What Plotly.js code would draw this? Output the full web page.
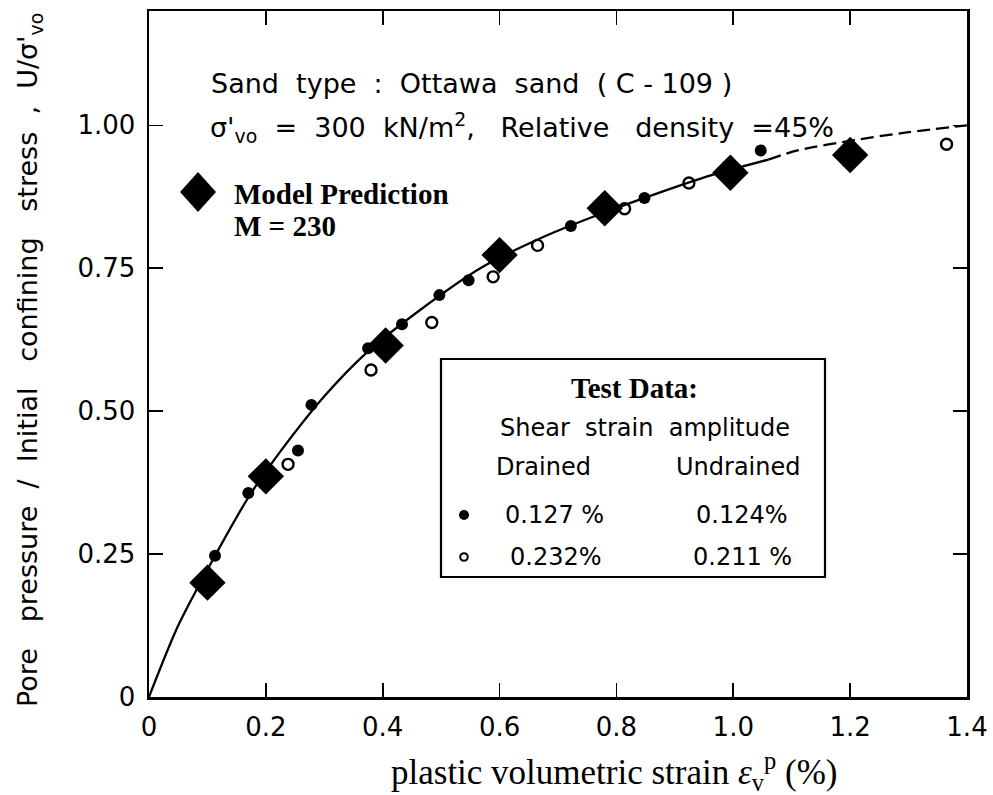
<!DOCTYPE html>
<html>
<head>
<meta charset="utf-8">
<script src="https://cdn.plot.ly/plotly-3.0.1.min.js"></script>
<style>
  html, body { margin: 0; padding: 0; background: #fff; }
  #chart { width: 993px; height: 795px; }
</style>
</head>
<body>
<div id="chart"></div>
<script>
// Model prediction (M = 230)
const modelStrain = [0.10, 0.20, 0.405, 0.60, 0.78, 0.995, 1.20];
const modelRatio  = [0.20, 0.386, 0.615, 0.773, 0.855, 0.917, 0.948];

// Test data, smaller shear strain amplitude (drained 0.127 %, undrained 0.124 %)
const smallAmpStrain = [0.113, 0.170, 0.255, 0.278, 0.375, 0.433, 0.497, 0.547, 0.722, 0.848, 1.047];
const smallAmpRatio  = [0.247, 0.357, 0.431, 0.511, 0.610, 0.652, 0.703, 0.729, 0.824, 0.873, 0.956];

// Test data, larger shear strain amplitude (drained 0.232 %, undrained 0.211 %)
const largeAmpStrain = [0.238, 0.380, 0.484, 0.589, 0.665, 0.814, 0.924, 1.365];
const largeAmpRatio  = [0.407, 0.572, 0.655, 0.735, 0.790, 0.854, 0.899, 0.967];

// Fitted trend: solid over the data range, dashed beyond it
const fitStrain = [0, 0.05, 0.113, 0.17, 0.213, 0.30, 0.373, 0.464, 0.567, 0.669, 0.76, 0.87, 0.96, 1.06];
const fitRatio  = [0, 0.125, 0.247, 0.349, 0.413, 0.526, 0.603, 0.677, 0.750, 0.802, 0.840, 0.881, 0.912, 0.940];
const extStrain = [1.06, 1.11, 1.20, 1.30, 1.40];
const extRatio  = [0.940, 0.956, 0.973, 0.988, 1.000];

// Axis ticks
const xTickVals = [0, 0.2, 0.4, 0.6, 0.8, 1.0, 1.2, 1.4];
const xTickText = ['0', '0.2', '0.4', '0.6', '0.8', '1.0', '1.2', '1.4'];
const yTickVals = [0, 0.25, 0.5, 0.75, 1.0];
const yTickText = ['0', '0.25', '0.50', '0.75', '1.00'];

// Legend table text
const legendTitle = 'Test Data:';
const legendHeader = 'Shear  strain  amplitude';
const legendCols = ['Drained', 'Undrained'];
const legendSmall = ['0.127 %', '0.124%'];
const legendLarge = ['0.232%', '0.211 %'];

// Plot frame in pixels, used to place the free text
const W = 993, H = 795;
const PL = 149, PR = 967, PT = 11, PB = 697;
const fx = px => (px - PL) / (PR - PL);
const fy = py => (PB - py) / (PB - PT);

const SANS = 'DejaVu Sans, sans-serif';
const SERIF = 'Liberation Serif, Times New Roman, serif';

const traces = [
  {
    x: fitStrain, y: fitRatio, type: 'scatter', mode: 'lines',
    line: { color: '#000', width: 2.3, shape: 'spline', smoothing: 0.8 },
    hoverinfo: 'skip'
  },
  {
    x: extStrain, y: extRatio, type: 'scatter', mode: 'lines',
    line: { color: '#000', width: 2.3, dash: '13px,6px', shape: 'spline', smoothing: 0.8 },
    hoverinfo: 'skip'
  },
  {
    x: smallAmpStrain, y: smallAmpRatio, type: 'scatter', mode: 'markers',
    marker: { symbol: 'circle', size: 12, color: '#000', line: { width: 0 } }
  },
  {
    x: largeAmpStrain, y: largeAmpRatio, type: 'scatter', mode: 'markers',
    marker: { symbol: 'circle-open', size: 11, color: '#000', line: { width: 2.4, color: '#000' } }
  },
  {
    x: modelStrain, y: modelRatio, type: 'scatter', mode: 'markers',
    marker: { symbol: 'diamond', size: 28, color: '#000', line: { width: 0 } }
  }
];

// centred sans-serif label at a pixel position
const sansAnn = (text, px, py, size) => ({
  text: text, xref: 'paper', yref: 'paper', x: fx(px), y: fy(py),
  xanchor: 'center', yanchor: 'middle', showarrow: false,
  font: { family: SANS, size: size, color: '#000' }
});
const serifAnn = (text, px, py, size, anchor) => ({
  text: text, xref: 'paper', yref: 'paper', x: fx(px), y: fy(py),
  xanchor: anchor || 'left', yanchor: 'middle', showarrow: false,
  font: { family: SERIF, size: size, color: '#000', weight: 'bold' }
});

const annotations = [
  sansAnn('Sand  type  :  Ottawa  sand  ( C - 109 )', 471, 83, 27),
  sansAnn("σ'<sub>vo</sub>  =  300  kN/m<sup>2</sup>,   Relative   density  =45%", 522, 128, 27),
  sansAnn(legendHeader, 645, 428, 24),
  sansAnn(legendCols[0], 543, 467, 24),
  sansAnn(legendCols[1], 738, 467, 24),
  sansAnn(legendSmall[0], 554, 515, 24),
  sansAnn(legendSmall[1], 742, 515, 24),
  sansAnn(legendLarge[0], 556, 557, 24),
  sansAnn(legendLarge[1], 742, 557, 24),
  {
    text: "Pore   pressure  /  Initial   confining   stress  ,  U/σ'<sub>vo</sub>",
    xref: 'paper', yref: 'paper', x: fx(29), y: fy(360),
    xanchor: 'center', yanchor: 'middle', textangle: -90, showarrow: false,
    font: { family: SANS, size: 27, color: '#000' }
  },
  serifAnn('Model Prediction', 232, 194, 29),
  serifAnn('M = 230', 232, 226, 29),
  serifAnn(legendTitle, 634, 388, 29, 'center'),
  {
    text: 'plastic volumetric strain <i>ε</i><sub>v</sub><sup>p</sup> (%)',
    xref: 'paper', yref: 'paper', x: fx(614), y: fy(771),
    xanchor: 'center', yanchor: 'middle', showarrow: false,
    font: { family: SERIF, size: 35, color: '#000' }
  }
];

const shapes = [
  // legend table frame
  {
    type: 'rect', xref: 'paper', yref: 'paper',
    x0: fx(441), x1: fx(825), y0: fy(577), y1: fy(359),
    line: { color: '#000', width: 2.2 }, fillcolor: 'rgba(0,0,0,0)'
  },
  // legend symbol: filled dot
  {
    type: 'circle', xref: 'paper', yref: 'paper', xsizemode: 'pixel', ysizemode: 'pixel',
    xanchor: fx(464), yanchor: fy(515), x0: -5, x1: 5, y0: -5, y1: 5,
    fillcolor: '#000', line: { width: 0 }
  },
  // legend symbol: open dot
  {
    type: 'circle', xref: 'paper', yref: 'paper', xsizemode: 'pixel', ysizemode: 'pixel',
    xanchor: fx(464), yanchor: fy(557), x0: -3.8, x1: 3.8, y0: -3.8, y1: 3.8,
    fillcolor: 'rgba(0,0,0,0)', line: { color: '#000', width: 2 }
  },
  // legend symbol: model diamond
  {
    type: 'path', xref: 'paper', yref: 'paper', xsizemode: 'pixel', ysizemode: 'pixel',
    xanchor: fx(198), yanchor: fy(192),
    path: 'M -18 0 L 0 20 L 18 0 L 0 -20 Z',
    fillcolor: '#000', line: { width: 0 }
  }
];

const axisCommon = {
  showgrid: false, zeroline: false, showline: true, linecolor: '#000', linewidth: 2.5,
  mirror: 'ticks', ticks: 'inside', ticklen: 14, tickwidth: 1.6, tickcolor: '#000',
  tickfont: { family: SANS, size: 26, color: '#000' }, fixedrange: true
};

const layout = {
  width: W, height: H,
  margin: { l: PL, r: W - PR, t: PT, b: H - PB, autoexpand: false },
  paper_bgcolor: '#fff', plot_bgcolor: '#fff',
  showlegend: false,
  xaxis: Object.assign({}, axisCommon, {
    range: [0, 1.4], tickmode: 'array', tickvals: xTickVals, ticktext: xTickText,
    ticklabelstandoff: 5
  }),
  yaxis: Object.assign({}, axisCommon, {
    range: [0, 1.2], tickmode: 'array', tickvals: yTickVals, ticktext: yTickText,
    ticklabelstandoff: 6
  }),
  annotations: annotations,
  shapes: shapes
};

Plotly.newPlot('chart', traces, layout, { staticPlot: true, displayModeBar: false });
</script>
</body>
</html>
